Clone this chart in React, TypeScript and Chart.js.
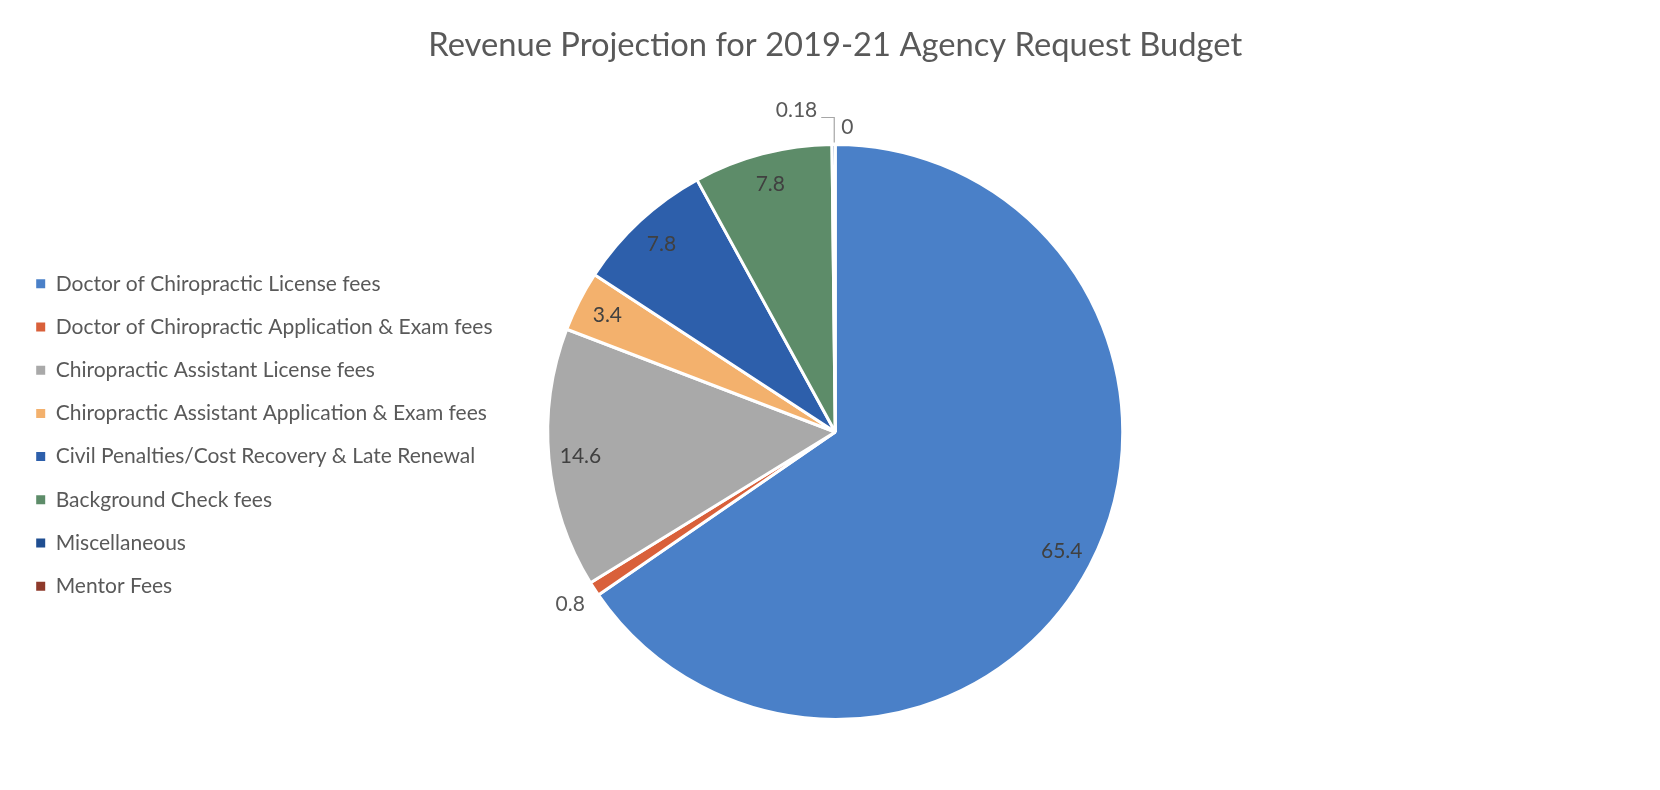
import React, { useEffect, useRef } from "react";
import { Chart, registerables } from "chart.js";

Chart.register(...registerables);

const TITLE = "Revenue Projection for 2019-21 Agency Request Budget";
const categories = [
  "Doctor of Chiropractic License fees",
  "Doctor of Chiropractic Application & Exam fees",
  "Chiropractic Assistant License fees",
  "Chiropractic Assistant Application & Exam fees",
  "Civil Penalties/Cost Recovery & Late Renewal",
  "Background Check fees",
  "Miscellaneous",
  "Mentor Fees",
];
const values = [65.4, 0.8, 14.6, 3.4, 7.8, 7.8, 0.18, 0];
const valueLabels = ["65.4", "0.8", "14.6", "3.4", "7.8", "7.8", "0.18", "0"];
const colors = [
  "#4a80c8",
  "#d9603a",
  "#a9a9a9",
  "#f3b16d",
  "#2d5fab",
  "#5d8c69",
  "#1f4e91",
  "#8e3a2b",
];

const FONT = "Lato, 'Noto Sans', sans-serif";
const TEXT = "#595959";

const titlePlugin = {
  id: "centeredTitle",
  afterDraw(chart: any) {
    const ctx = chart.ctx;
    const area = chart.chartArea;
    ctx.save();
    ctx.font = `32.7px ${FONT}`;
    ctx.fillStyle = TEXT;
    ctx.textAlign = "center";
    ctx.textBaseline = "middle";
    ctx.fillText(TITLE, (area.left + area.right) / 2, 45);
    ctx.restore();
  },
};

const labelPlugin = {
  id: "valueLabels",
  afterDatasetsDraw(chart: any) {
    const meta = chart.getDatasetMeta(0);
    const ctx = chart.ctx;
    ctx.save();
    ctx.font = `21px ${FONT}`;
    ctx.textBaseline = "middle";
    meta.data.forEach((arc: any, i: number) => {
      const p = arc.getProps(["x", "y", "startAngle", "endAngle", "outerRadius"], true);
      const mid = (p.startAngle + p.endAngle) / 2;
      const r = p.outerRadius;
      const top = p.y - r;
      if (i === 6) {
        ctx.fillStyle = TEXT;
        ctx.textAlign = "right";
        ctx.fillText(valueLabels[i], p.x - 18, top - 34);
        ctx.strokeStyle = "#a6a6a6";
        ctx.lineWidth = 1.2;
        ctx.beginPath();
        ctx.moveTo(p.x - 14, top - 27);
        ctx.lineTo(p.x - 1, top - 27);
        ctx.lineTo(p.x - 1, top - 2);
        ctx.stroke();
        return;
      }
      if (i === 7) {
        ctx.fillStyle = TEXT;
        ctx.textAlign = "left";
        ctx.fillText(valueLabels[i], p.x + 6, top - 17);
        return;
      }
      const f = i === 1 ? 1.1 : 0.89;
      ctx.fillStyle = i === 1 ? TEXT : "#404040";
      ctx.textAlign = "center";
      ctx.fillText(valueLabels[i], p.x + Math.cos(mid) * r * f, p.y + Math.sin(mid) * r * f);
    });
    ctx.restore();
  },
};

export default function App() {
  const ref = useRef<HTMLCanvasElement | null>(null);
  useEffect(() => {
    if (!ref.current) return;
    const baseGen = (Chart as any).overrides.doughnut.plugins.legend.labels.generateLabels;
    const chart = new Chart(ref.current, {
      type: "pie",
      data: {
        labels: categories,
        datasets: [
          {
            data: values,
            backgroundColor: colors,
            borderColor: "#ffffff",
            borderWidth: 3,
          },
        ],
      },
      options: {
        animation: false,
        responsive: true,
        maintainAspectRatio: false,
        layout: { padding: { left: 14, right: 492, top: 143, bottom: 69 } },
        plugins: {
          tooltip: { enabled: false },
          title: { display: false },
          legend: {
            position: "left",
            fullSize: false,
            align: "center",
            title: { display: true, text: "", font: { size: 5, lineHeight: 1 }, padding: 0.5 },
            labels: {
              boxWidth: 9,
              boxHeight: 9,
              padding: 22.2,
              color: TEXT,
              font: { family: FONT, size: 21 },
              generateLabels: (c: any) =>
                baseGen(c).map((it: any) => ({ ...it, lineWidth: 0, strokeStyle: "rgba(0,0,0,0)" })),
            },
          },
        },
      } as any,
      plugins: [labelPlugin, titlePlugin],
    });
    return () => chart.destroy();
  }, []);
  return (
    <div style={{ position: "absolute", left: 0, top: 0, width: 1660, height: 790, background: "#fff" }}>
      <canvas ref={ref} />
    </div>
  );
}
